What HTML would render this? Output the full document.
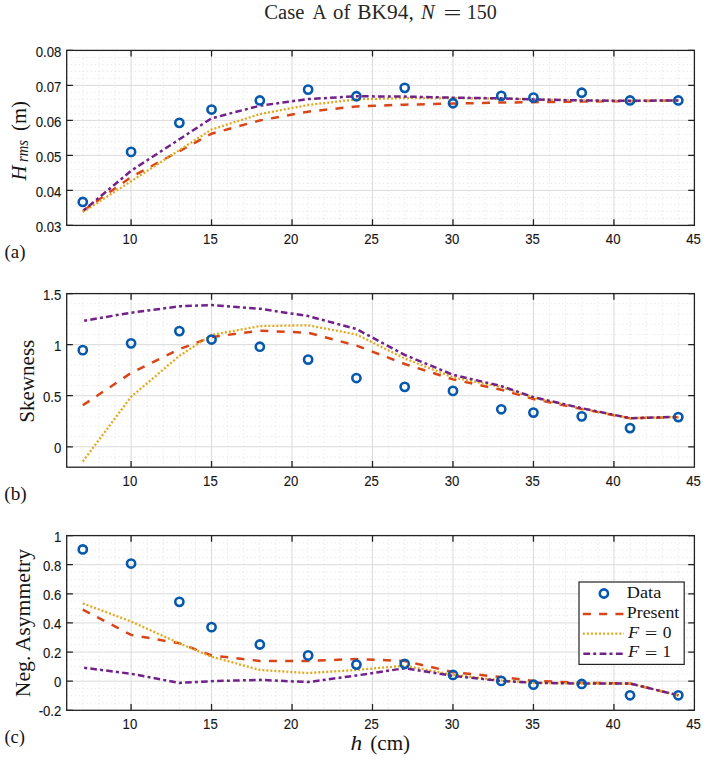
<!DOCTYPE html><html><head><meta charset="utf-8"><style>html,body{margin:0;padding:0;background:#fff;}svg{display:block}</style></head><body>
<svg width="709" height="760" viewBox="0 0 709 760">
<rect width="709" height="760" fill="#fff"/>
<path d="M82.79 50.40V225.40M98.89 50.40V225.40M114.98 50.40V225.40M147.17 50.40V225.40M163.27 50.40V225.40M179.36 50.40V225.40M195.46 50.40V225.40M227.65 50.40V225.40M243.74 50.40V225.40M259.84 50.40V225.40M275.93 50.40V225.40M308.12 50.40V225.40M324.22 50.40V225.40M340.31 50.40V225.40M356.41 50.40V225.40M388.60 50.40V225.40M404.69 50.40V225.40M420.79 50.40V225.40M436.88 50.40V225.40M469.07 50.40V225.40M485.17 50.40V225.40M501.26 50.40V225.40M517.36 50.40V225.40M549.55 50.40V225.40M565.64 50.40V225.40M581.74 50.40V225.40M597.83 50.40V225.40M630.02 50.40V225.40M646.12 50.40V225.40M662.21 50.40V225.40M678.31 50.40V225.40M66.70 218.40H694.40M66.70 211.40H694.40M66.70 204.40H694.40M66.70 197.40H694.40M66.70 183.40H694.40M66.70 176.40H694.40M66.70 169.40H694.40M66.70 162.40H694.40M66.70 148.40H694.40M66.70 141.40H694.40M66.70 134.40H694.40M66.70 127.40H694.40M66.70 113.40H694.40M66.70 106.40H694.40M66.70 99.40H694.40M66.70 92.40H694.40M66.70 78.40H694.40M66.70 71.40H694.40M66.70 64.40H694.40M66.70 57.40H694.40" stroke="#dfdfdf" stroke-width="1" stroke-dasharray="1 3" fill="none"/>
<path d="M131.08 50.40V225.40M211.55 50.40V225.40M292.03 50.40V225.40M372.50 50.40V225.40M452.98 50.40V225.40M533.45 50.40V225.40M613.93 50.40V225.40M66.70 190.40H694.40M66.70 155.40H694.40M66.70 120.40H694.40M66.70 85.40H694.40" stroke="#dadada" stroke-width="1" fill="none"/>
<polyline points="82.79,211.05 131.08,177.10 179.36,151.20 211.55,133.70 259.84,120.40 308.12,111.65 356.41,106.40 404.69,104.65 452.98,103.60 501.26,102.55 533.45,102.20 581.74,101.50 630.02,101.15 678.31,100.45" fill="none" stroke="#d84518" stroke-width="2.5" stroke-dasharray="8 8.3" stroke-dashoffset="0"/>
<polyline points="82.79,212.10 131.08,181.30 179.36,150.15 211.55,129.50 259.84,114.10 308.12,105.00 356.41,99.40 404.69,98.00 452.98,98.00 501.26,98.70 533.45,99.40 581.74,100.45 630.02,100.80 678.31,100.45" fill="none" stroke="#e3a81c" stroke-width="2.3" stroke-dasharray="2 2" stroke-dashoffset="0"/>
<polyline points="82.79,211.05 131.08,170.80 179.36,139.30 211.55,118.30 259.84,105.70 308.12,99.05 356.41,96.25 404.69,96.60 452.98,97.65 501.26,98.35 533.45,99.40 581.74,100.45 630.02,100.80 678.31,100.45" fill="none" stroke="#72218a" stroke-width="2.5" stroke-dasharray="6.6 3.2 3 3.2" stroke-dashoffset="8.4"/>
<circle cx="82.79" cy="201.95" r="4.1" fill="none" stroke="#0658ad" stroke-width="2.6"/>
<circle cx="131.08" cy="151.90" r="4.1" fill="none" stroke="#0658ad" stroke-width="2.6"/>
<circle cx="179.36" cy="122.85" r="4.1" fill="none" stroke="#0658ad" stroke-width="2.6"/>
<circle cx="211.55" cy="109.55" r="4.1" fill="none" stroke="#0658ad" stroke-width="2.6"/>
<circle cx="259.84" cy="100.45" r="4.1" fill="none" stroke="#0658ad" stroke-width="2.6"/>
<circle cx="308.12" cy="89.60" r="4.1" fill="none" stroke="#0658ad" stroke-width="2.6"/>
<circle cx="356.41" cy="96.25" r="4.1" fill="none" stroke="#0658ad" stroke-width="2.6"/>
<circle cx="404.69" cy="87.85" r="4.1" fill="none" stroke="#0658ad" stroke-width="2.6"/>
<circle cx="452.98" cy="103.25" r="4.1" fill="none" stroke="#0658ad" stroke-width="2.6"/>
<circle cx="501.26" cy="95.90" r="4.1" fill="none" stroke="#0658ad" stroke-width="2.6"/>
<circle cx="533.45" cy="97.65" r="4.1" fill="none" stroke="#0658ad" stroke-width="2.6"/>
<circle cx="581.74" cy="92.75" r="4.1" fill="none" stroke="#0658ad" stroke-width="2.6"/>
<circle cx="630.02" cy="100.45" r="4.1" fill="none" stroke="#0658ad" stroke-width="2.6"/>
<circle cx="678.31" cy="100.45" r="4.1" fill="none" stroke="#0658ad" stroke-width="2.6"/>
<rect x="66.70" y="50.40" width="627.70" height="175.00" fill="none" stroke="#222222" stroke-width="1.3"/>
<path d="M131.08 225.40v-6.2M131.08 50.40v6.2M211.55 225.40v-6.2M211.55 50.40v6.2M292.03 225.40v-6.2M292.03 50.40v6.2M372.50 225.40v-6.2M372.50 50.40v6.2M452.98 225.40v-6.2M452.98 50.40v6.2M533.45 225.40v-6.2M533.45 50.40v6.2M613.93 225.40v-6.2M613.93 50.40v6.2M66.70 225.40h6.2M694.40 225.40h-6.2M66.70 190.40h6.2M694.40 190.40h-6.2M66.70 155.40h6.2M694.40 155.40h-6.2M66.70 120.40h6.2M694.40 120.40h-6.2M66.70 85.40h6.2M694.40 85.40h-6.2M66.70 50.40h6.2M694.40 50.40h-6.2" stroke="#222222" stroke-width="1.3" fill="none"/>
<text x="35.69" y="231.50" font-family="Liberation Sans" font-size="14.3" textLength="25.61" lengthAdjust="spacingAndGlyphs" fill="#151515" stroke="#151515" stroke-width="0.12">0.03</text>
<text x="35.69" y="196.50" font-family="Liberation Sans" font-size="14.3" textLength="25.61" lengthAdjust="spacingAndGlyphs" fill="#151515" stroke="#151515" stroke-width="0.12">0.04</text>
<text x="35.69" y="161.50" font-family="Liberation Sans" font-size="14.3" textLength="25.61" lengthAdjust="spacingAndGlyphs" fill="#151515" stroke="#151515" stroke-width="0.12">0.05</text>
<text x="35.69" y="126.50" font-family="Liberation Sans" font-size="14.3" textLength="25.61" lengthAdjust="spacingAndGlyphs" fill="#151515" stroke="#151515" stroke-width="0.12">0.06</text>
<text x="35.69" y="91.50" font-family="Liberation Sans" font-size="14.3" textLength="25.61" lengthAdjust="spacingAndGlyphs" fill="#151515" stroke="#151515" stroke-width="0.12">0.07</text>
<text x="35.69" y="56.50" font-family="Liberation Sans" font-size="14.3" textLength="25.61" lengthAdjust="spacingAndGlyphs" fill="#151515" stroke="#151515" stroke-width="0.12">0.08</text>
<text x="122.62" y="244.40" font-family="Liberation Sans" font-size="14.3" textLength="14.63" lengthAdjust="spacingAndGlyphs" fill="#151515" stroke="#151515" stroke-width="0.12">10</text>
<text x="203.12" y="244.40" font-family="Liberation Sans" font-size="14.3" textLength="14.63" lengthAdjust="spacingAndGlyphs" fill="#151515" stroke="#151515" stroke-width="0.12">15</text>
<text x="283.74" y="244.40" font-family="Liberation Sans" font-size="14.3" textLength="14.63" lengthAdjust="spacingAndGlyphs" fill="#151515" stroke="#151515" stroke-width="0.12">20</text>
<text x="364.24" y="244.40" font-family="Liberation Sans" font-size="14.3" textLength="14.63" lengthAdjust="spacingAndGlyphs" fill="#151515" stroke="#151515" stroke-width="0.12">25</text>
<text x="444.77" y="244.40" font-family="Liberation Sans" font-size="14.3" textLength="14.63" lengthAdjust="spacingAndGlyphs" fill="#151515" stroke="#151515" stroke-width="0.12">30</text>
<text x="525.26" y="244.40" font-family="Liberation Sans" font-size="14.3" textLength="14.63" lengthAdjust="spacingAndGlyphs" fill="#151515" stroke="#151515" stroke-width="0.12">35</text>
<text x="605.82" y="244.40" font-family="Liberation Sans" font-size="14.3" textLength="14.63" lengthAdjust="spacingAndGlyphs" fill="#151515" stroke="#151515" stroke-width="0.12">40</text>
<text x="686.31" y="244.40" font-family="Liberation Sans" font-size="14.3" textLength="14.63" lengthAdjust="spacingAndGlyphs" fill="#151515" stroke="#151515" stroke-width="0.12">45</text>
<path d="M82.79 293.60V467.20M98.89 293.60V467.20M114.98 293.60V467.20M147.17 293.60V467.20M163.27 293.60V467.20M179.36 293.60V467.20M195.46 293.60V467.20M227.65 293.60V467.20M243.74 293.60V467.20M259.84 293.60V467.20M275.93 293.60V467.20M308.12 293.60V467.20M324.22 293.60V467.20M340.31 293.60V467.20M356.41 293.60V467.20M388.60 293.60V467.20M404.69 293.60V467.20M420.79 293.60V467.20M436.88 293.60V467.20M469.07 293.60V467.20M485.17 293.60V467.20M501.26 293.60V467.20M517.36 293.60V467.20M549.55 293.60V467.20M565.64 293.60V467.20M581.74 293.60V467.20M597.83 293.60V467.20M630.02 293.60V467.20M646.12 293.60V467.20M662.21 293.60V467.20M678.31 293.60V467.20M66.70 456.99H694.40M66.70 436.56H694.40M66.70 426.35H694.40M66.70 416.14H694.40M66.70 405.93H694.40M66.70 385.51H694.40M66.70 375.29H694.40M66.70 365.08H694.40M66.70 354.87H694.40M66.70 334.45H694.40M66.70 324.24H694.40M66.70 314.02H694.40M66.70 303.81H694.40" stroke="#dfdfdf" stroke-width="1" stroke-dasharray="1 3" fill="none"/>
<path d="M131.08 293.60V467.20M211.55 293.60V467.20M292.03 293.60V467.20M372.50 293.60V467.20M452.98 293.60V467.20M533.45 293.60V467.20M613.93 293.60V467.20M66.70 446.78H694.40M66.70 395.72H694.40M66.70 344.66H694.40" stroke="#dadada" stroke-width="1" fill="none"/>
<polyline points="82.79,405.32 131.08,372.95 179.36,349.15 211.55,337.00 259.84,330.77 308.12,332.71 356.41,345.58 404.69,363.96 452.98,379.38 501.26,389.79 533.45,398.99 581.74,408.99 630.02,418.18 678.31,417.16" fill="none" stroke="#d84518" stroke-width="2.5" stroke-dasharray="8 8.3" stroke-dashoffset="0"/>
<polyline points="82.79,461.48 131.08,396.84 179.36,355.89 211.55,334.96 259.84,326.07 308.12,325.26 356.41,334.45 404.69,358.44 452.98,377.34 501.26,387.04 533.45,397.76 581.74,408.48 630.02,418.18 678.31,416.96" fill="none" stroke="#e3a81c" stroke-width="2.3" stroke-dasharray="2 2" stroke-dashoffset="0"/>
<polyline points="82.79,320.97 131.08,312.70 179.36,306.36 211.55,305.04 259.84,308.71 308.12,316.07 356.41,329.03 404.69,354.87 452.98,374.78 501.26,386.12 533.45,397.15 581.74,408.18 630.02,418.18 678.31,416.86" fill="none" stroke="#72218a" stroke-width="2.5" stroke-dasharray="6.6 3.2 3 3.2" stroke-dashoffset="8.4"/>
<circle cx="82.79" cy="350.17" r="4.1" fill="none" stroke="#0658ad" stroke-width="2.6"/>
<circle cx="131.08" cy="343.33" r="4.1" fill="none" stroke="#0658ad" stroke-width="2.6"/>
<circle cx="179.36" cy="331.08" r="4.1" fill="none" stroke="#0658ad" stroke-width="2.6"/>
<circle cx="211.55" cy="339.55" r="4.1" fill="none" stroke="#0658ad" stroke-width="2.6"/>
<circle cx="259.84" cy="346.70" r="4.1" fill="none" stroke="#0658ad" stroke-width="2.6"/>
<circle cx="308.12" cy="359.57" r="4.1" fill="none" stroke="#0658ad" stroke-width="2.6"/>
<circle cx="356.41" cy="378.05" r="4.1" fill="none" stroke="#0658ad" stroke-width="2.6"/>
<circle cx="404.69" cy="386.83" r="4.1" fill="none" stroke="#0658ad" stroke-width="2.6"/>
<circle cx="452.98" cy="390.92" r="4.1" fill="none" stroke="#0658ad" stroke-width="2.6"/>
<circle cx="501.26" cy="409.30" r="4.1" fill="none" stroke="#0658ad" stroke-width="2.6"/>
<circle cx="533.45" cy="412.57" r="4.1" fill="none" stroke="#0658ad" stroke-width="2.6"/>
<circle cx="581.74" cy="416.35" r="4.1" fill="none" stroke="#0658ad" stroke-width="2.6"/>
<circle cx="630.02" cy="428.09" r="4.1" fill="none" stroke="#0658ad" stroke-width="2.6"/>
<circle cx="678.31" cy="417.06" r="4.1" fill="none" stroke="#0658ad" stroke-width="2.6"/>
<rect x="66.70" y="293.60" width="627.70" height="173.60" fill="none" stroke="#222222" stroke-width="1.3"/>
<path d="M131.08 467.20v-6.2M131.08 293.60v6.2M211.55 467.20v-6.2M211.55 293.60v6.2M292.03 467.20v-6.2M292.03 293.60v6.2M372.50 467.20v-6.2M372.50 293.60v6.2M452.98 467.20v-6.2M452.98 293.60v6.2M533.45 467.20v-6.2M533.45 293.60v6.2M613.93 467.20v-6.2M613.93 293.60v6.2M66.70 446.78h6.2M694.40 446.78h-6.2M66.70 395.72h6.2M694.40 395.72h-6.2M66.70 344.66h6.2M694.40 344.66h-6.2M66.70 293.60h6.2M694.40 293.60h-6.2" stroke="#222222" stroke-width="1.3" fill="none"/>
<text x="53.98" y="452.88" font-family="Liberation Sans" font-size="14.3" textLength="7.32" lengthAdjust="spacingAndGlyphs" fill="#151515" stroke="#151515" stroke-width="0.12">0</text>
<text x="43.01" y="401.82" font-family="Liberation Sans" font-size="14.3" textLength="18.29" lengthAdjust="spacingAndGlyphs" fill="#151515" stroke="#151515" stroke-width="0.12">0.5</text>
<text x="53.98" y="350.76" font-family="Liberation Sans" font-size="14.3" textLength="7.32" lengthAdjust="spacingAndGlyphs" fill="#151515" stroke="#151515" stroke-width="0.12">1</text>
<text x="43.01" y="299.70" font-family="Liberation Sans" font-size="14.3" textLength="18.29" lengthAdjust="spacingAndGlyphs" fill="#151515" stroke="#151515" stroke-width="0.12">1.5</text>
<text x="122.62" y="486.20" font-family="Liberation Sans" font-size="14.3" textLength="14.63" lengthAdjust="spacingAndGlyphs" fill="#151515" stroke="#151515" stroke-width="0.12">10</text>
<text x="203.12" y="486.20" font-family="Liberation Sans" font-size="14.3" textLength="14.63" lengthAdjust="spacingAndGlyphs" fill="#151515" stroke="#151515" stroke-width="0.12">15</text>
<text x="283.74" y="486.20" font-family="Liberation Sans" font-size="14.3" textLength="14.63" lengthAdjust="spacingAndGlyphs" fill="#151515" stroke="#151515" stroke-width="0.12">20</text>
<text x="364.24" y="486.20" font-family="Liberation Sans" font-size="14.3" textLength="14.63" lengthAdjust="spacingAndGlyphs" fill="#151515" stroke="#151515" stroke-width="0.12">25</text>
<text x="444.77" y="486.20" font-family="Liberation Sans" font-size="14.3" textLength="14.63" lengthAdjust="spacingAndGlyphs" fill="#151515" stroke="#151515" stroke-width="0.12">30</text>
<text x="525.26" y="486.20" font-family="Liberation Sans" font-size="14.3" textLength="14.63" lengthAdjust="spacingAndGlyphs" fill="#151515" stroke="#151515" stroke-width="0.12">35</text>
<text x="605.82" y="486.20" font-family="Liberation Sans" font-size="14.3" textLength="14.63" lengthAdjust="spacingAndGlyphs" fill="#151515" stroke="#151515" stroke-width="0.12">40</text>
<text x="686.31" y="486.20" font-family="Liberation Sans" font-size="14.3" textLength="14.63" lengthAdjust="spacingAndGlyphs" fill="#151515" stroke="#151515" stroke-width="0.12">45</text>
<path d="M82.79 535.60V710.30M98.89 535.60V710.30M114.98 535.60V710.30M147.17 535.60V710.30M163.27 535.60V710.30M179.36 535.60V710.30M195.46 535.60V710.30M227.65 535.60V710.30M243.74 535.60V710.30M259.84 535.60V710.30M275.93 535.60V710.30M308.12 535.60V710.30M324.22 535.60V710.30M340.31 535.60V710.30M356.41 535.60V710.30M388.60 535.60V710.30M404.69 535.60V710.30M420.79 535.60V710.30M436.88 535.60V710.30M469.07 535.60V710.30M485.17 535.60V710.30M501.26 535.60V710.30M517.36 535.60V710.30M549.55 535.60V710.30M565.64 535.60V710.30M581.74 535.60V710.30M597.83 535.60V710.30M630.02 535.60V710.30M646.12 535.60V710.30M662.21 535.60V710.30M678.31 535.60V710.30M66.70 703.02H694.40M66.70 695.74H694.40M66.70 688.46H694.40M66.70 673.90H694.40M66.70 666.62H694.40M66.70 659.35H694.40M66.70 644.79H694.40M66.70 637.51H694.40M66.70 630.23H694.40M66.70 615.67H694.40M66.70 608.39H694.40M66.70 601.11H694.40M66.70 586.55H694.40M66.70 579.27H694.40M66.70 572.00H694.40M66.70 557.44H694.40M66.70 550.16H694.40M66.70 542.88H694.40" stroke="#dfdfdf" stroke-width="1" stroke-dasharray="1 3" fill="none"/>
<path d="M131.08 535.60V710.30M211.55 535.60V710.30M292.03 535.60V710.30M372.50 535.60V710.30M452.98 535.60V710.30M533.45 535.60V710.30M613.93 535.60V710.30M66.70 681.18H694.40M66.70 652.07H694.40M66.70 622.95H694.40M66.70 593.83H694.40M66.70 564.72H694.40" stroke="#dadada" stroke-width="1" fill="none"/>
<polyline points="82.79,609.56 131.08,634.89 179.36,643.33 211.55,655.42 259.84,660.95 308.12,660.95 356.41,659.05 404.69,660.95 452.98,672.16 501.26,677.11 533.45,680.89 581.74,682.78 630.02,683.51 678.31,695.30" fill="none" stroke="#d84518" stroke-width="2.5" stroke-dasharray="8 8.3" stroke-dashoffset="0"/>
<polyline points="82.79,603.44 131.08,621.49 179.36,643.33 211.55,656.73 259.84,669.97 308.12,673.03 356.41,669.97 404.69,665.75 452.98,674.78 501.26,680.46 533.45,682.78 581.74,683.51 630.02,683.51 678.31,695.30" fill="none" stroke="#e3a81c" stroke-width="2.3" stroke-dasharray="2 2" stroke-dashoffset="0"/>
<polyline points="82.79,667.64 131.08,673.76 179.36,682.93 211.55,681.18 259.84,679.87 308.12,682.06 356.41,675.51 404.69,668.23 452.98,675.94 501.26,680.89 533.45,682.78 581.74,683.51 630.02,683.51 678.31,695.30" fill="none" stroke="#72218a" stroke-width="2.5" stroke-dasharray="6.6 3.2 3 3.2" stroke-dashoffset="8.4"/>
<circle cx="82.79" cy="549.43" r="4.1" fill="none" stroke="#0658ad" stroke-width="2.6"/>
<circle cx="131.08" cy="563.55" r="4.1" fill="none" stroke="#0658ad" stroke-width="2.6"/>
<circle cx="179.36" cy="601.84" r="4.1" fill="none" stroke="#0658ad" stroke-width="2.6"/>
<circle cx="211.55" cy="627.17" r="4.1" fill="none" stroke="#0658ad" stroke-width="2.6"/>
<circle cx="259.84" cy="644.50" r="4.1" fill="none" stroke="#0658ad" stroke-width="2.6"/>
<circle cx="308.12" cy="655.42" r="4.1" fill="none" stroke="#0658ad" stroke-width="2.6"/>
<circle cx="356.41" cy="664.59" r="4.1" fill="none" stroke="#0658ad" stroke-width="2.6"/>
<circle cx="404.69" cy="663.86" r="4.1" fill="none" stroke="#0658ad" stroke-width="2.6"/>
<circle cx="452.98" cy="674.92" r="4.1" fill="none" stroke="#0658ad" stroke-width="2.6"/>
<circle cx="501.26" cy="680.89" r="4.1" fill="none" stroke="#0658ad" stroke-width="2.6"/>
<circle cx="533.45" cy="684.68" r="4.1" fill="none" stroke="#0658ad" stroke-width="2.6"/>
<circle cx="581.74" cy="683.95" r="4.1" fill="none" stroke="#0658ad" stroke-width="2.6"/>
<circle cx="630.02" cy="695.30" r="4.1" fill="none" stroke="#0658ad" stroke-width="2.6"/>
<circle cx="678.31" cy="695.30" r="4.1" fill="none" stroke="#0658ad" stroke-width="2.6"/>
<rect x="66.70" y="535.60" width="627.70" height="174.70" fill="none" stroke="#222222" stroke-width="1.3"/>
<path d="M131.08 710.30v-6.2M131.08 535.60v6.2M211.55 710.30v-6.2M211.55 535.60v6.2M292.03 710.30v-6.2M292.03 535.60v6.2M372.50 710.30v-6.2M372.50 535.60v6.2M452.98 710.30v-6.2M452.98 535.60v6.2M533.45 710.30v-6.2M533.45 535.60v6.2M613.93 710.30v-6.2M613.93 535.60v6.2M66.70 710.30h6.2M694.40 710.30h-6.2M66.70 681.18h6.2M694.40 681.18h-6.2M66.70 652.07h6.2M694.40 652.07h-6.2M66.70 622.95h6.2M694.40 622.95h-6.2M66.70 593.83h6.2M694.40 593.83h-6.2M66.70 564.72h6.2M694.40 564.72h-6.2M66.70 535.60h6.2M694.40 535.60h-6.2" stroke="#222222" stroke-width="1.3" fill="none"/>
<text x="38.63" y="716.40" font-family="Liberation Sans" font-size="14.3" textLength="22.67" lengthAdjust="spacingAndGlyphs" fill="#151515" stroke="#151515" stroke-width="0.12">-0.2</text>
<text x="53.98" y="687.28" font-family="Liberation Sans" font-size="14.3" textLength="7.32" lengthAdjust="spacingAndGlyphs" fill="#151515" stroke="#151515" stroke-width="0.12">0</text>
<text x="43.01" y="658.17" font-family="Liberation Sans" font-size="14.3" textLength="18.29" lengthAdjust="spacingAndGlyphs" fill="#151515" stroke="#151515" stroke-width="0.12">0.2</text>
<text x="43.01" y="629.05" font-family="Liberation Sans" font-size="14.3" textLength="18.29" lengthAdjust="spacingAndGlyphs" fill="#151515" stroke="#151515" stroke-width="0.12">0.4</text>
<text x="43.01" y="599.93" font-family="Liberation Sans" font-size="14.3" textLength="18.29" lengthAdjust="spacingAndGlyphs" fill="#151515" stroke="#151515" stroke-width="0.12">0.6</text>
<text x="43.01" y="570.82" font-family="Liberation Sans" font-size="14.3" textLength="18.29" lengthAdjust="spacingAndGlyphs" fill="#151515" stroke="#151515" stroke-width="0.12">0.8</text>
<text x="53.98" y="541.70" font-family="Liberation Sans" font-size="14.3" textLength="7.32" lengthAdjust="spacingAndGlyphs" fill="#151515" stroke="#151515" stroke-width="0.12">1</text>
<text x="122.62" y="729.30" font-family="Liberation Sans" font-size="14.3" textLength="14.63" lengthAdjust="spacingAndGlyphs" fill="#151515" stroke="#151515" stroke-width="0.12">10</text>
<text x="203.12" y="729.30" font-family="Liberation Sans" font-size="14.3" textLength="14.63" lengthAdjust="spacingAndGlyphs" fill="#151515" stroke="#151515" stroke-width="0.12">15</text>
<text x="283.74" y="729.30" font-family="Liberation Sans" font-size="14.3" textLength="14.63" lengthAdjust="spacingAndGlyphs" fill="#151515" stroke="#151515" stroke-width="0.12">20</text>
<text x="364.24" y="729.30" font-family="Liberation Sans" font-size="14.3" textLength="14.63" lengthAdjust="spacingAndGlyphs" fill="#151515" stroke="#151515" stroke-width="0.12">25</text>
<text x="444.77" y="729.30" font-family="Liberation Sans" font-size="14.3" textLength="14.63" lengthAdjust="spacingAndGlyphs" fill="#151515" stroke="#151515" stroke-width="0.12">30</text>
<text x="525.26" y="729.30" font-family="Liberation Sans" font-size="14.3" textLength="14.63" lengthAdjust="spacingAndGlyphs" fill="#151515" stroke="#151515" stroke-width="0.12">35</text>
<text x="605.82" y="729.30" font-family="Liberation Sans" font-size="14.3" textLength="14.63" lengthAdjust="spacingAndGlyphs" fill="#151515" stroke="#151515" stroke-width="0.12">40</text>
<text x="686.31" y="729.30" font-family="Liberation Sans" font-size="14.3" textLength="14.63" lengthAdjust="spacingAndGlyphs" fill="#151515" stroke="#151515" stroke-width="0.12">45</text>
<text x="264.25" y="19.25" font-family="Liberation Serif" font-style="normal" font-size="20.5" textLength="40.06" lengthAdjust="spacingAndGlyphs" fill="#262626" >Case</text>
<text x="312.61" y="19.25" font-family="Liberation Serif" font-style="normal" font-size="20.5" textLength="14.03" lengthAdjust="spacingAndGlyphs" fill="#262626" >A</text>
<text x="333.01" y="19.25" font-family="Liberation Serif" font-style="normal" font-size="20.5" textLength="17.29" lengthAdjust="spacingAndGlyphs" fill="#262626" >of</text>
<text x="357.38" y="19.25" font-family="Liberation Serif" font-style="normal" font-size="20.5" textLength="56.37" lengthAdjust="spacingAndGlyphs" fill="#262626" >BK94,</text>
<text x="421.04" y="19.25" font-family="Liberation Serif" font-style="italic" font-size="20.5" textLength="13.71" lengthAdjust="spacingAndGlyphs" fill="#262626" >N</text>
<text x="443.61" y="20.00" font-family="Liberation Serif" font-style="normal" font-size="20.5" textLength="17.95" lengthAdjust="spacingAndGlyphs" fill="#262626" >=</text>
<text x="466.74" y="19.25" font-family="Liberation Serif" font-style="normal" font-size="20.5" textLength="30.02" lengthAdjust="spacingAndGlyphs" fill="#262626" >150</text>
<text transform="translate(25.60,180.60) rotate(-90)" x="0.23" y="0" font-family="Liberation Serif" font-style="italic" font-size="20" textLength="15.04" lengthAdjust="spacingAndGlyphs" fill="#151515" >H</text>
<text transform="translate(28.10,161.30) rotate(-90)" x="-0.59" y="0" font-family="Liberation Serif" font-style="italic" font-size="16" textLength="21.74" lengthAdjust="spacingAndGlyphs" fill="#151515" >rms</text>
<text transform="translate(25.60,130.00) rotate(-90)" x="-0.91" y="0" font-family="Liberation Serif" font-style="normal" font-size="20" textLength="29.92" lengthAdjust="spacingAndGlyphs" fill="#151515" >(m)</text>
<text transform="translate(33.50,421.40) rotate(-90)" x="-1.41" y="0" font-family="Liberation Serif" font-style="normal" font-size="20.5" textLength="83.08" lengthAdjust="spacingAndGlyphs" fill="#151515" >Skewness</text>
<text transform="translate(30.40,696.60) rotate(-90)" x="-0.63" y="0" font-family="Liberation Serif" font-style="normal" font-size="21" textLength="148.31" lengthAdjust="spacingAndGlyphs" fill="#151515" >Neg. Asymmetry</text>
<text x="4.57" y="258.30" font-family="Liberation Serif" font-style="normal" font-size="19" textLength="20.96" lengthAdjust="spacingAndGlyphs" fill="#151515" >(a)</text>
<text x="4.36" y="500.20" font-family="Liberation Serif" font-style="normal" font-size="19" textLength="22.39" lengthAdjust="spacingAndGlyphs" fill="#151515" >(b)</text>
<text x="4.38" y="743.40" font-family="Liberation Serif" font-style="normal" font-size="19" textLength="20.63" lengthAdjust="spacingAndGlyphs" fill="#151515" >(c)</text>
<text x="350.56" y="749.70" font-family="Liberation Serif" font-style="italic" font-size="20" textLength="11.70" lengthAdjust="spacingAndGlyphs" fill="#151515" >h</text>
<text x="370.27" y="749.70" font-family="Liberation Serif" font-style="normal" font-size="20" textLength="39.85" lengthAdjust="spacingAndGlyphs" fill="#151515" >(cm)</text>
<rect x="579.0" y="582.0" width="105.20" height="82.40" fill="#fff" stroke="#222222" stroke-width="1.2"/>
<circle cx="603.9" cy="593.5" r="4.1" fill="none" stroke="#0658ad" stroke-width="2.6"/>
<path d="M582.8 613.9H623.9" stroke="#d84518" stroke-width="2.5" stroke-dasharray="8.1 8.2" fill="none"/>
<path d="M582.8 633.6H623.9" stroke="#e3a81c" stroke-width="2.3" stroke-dasharray="2 2.06" fill="none"/>
<path d="M583.3 653.8H623.9" stroke="#72218a" stroke-width="2.5" stroke-dasharray="6.8 3.1 3 3.4" fill="none"/>
<text x="626.87" y="597.80" font-family="Liberation Serif" font-style="normal" font-size="16.3" textLength="34.38" lengthAdjust="spacingAndGlyphs" fill="#151515" >Data</text>
<text x="626.88" y="617.70" font-family="Liberation Serif" font-style="normal" font-size="16.3" textLength="52.42" lengthAdjust="spacingAndGlyphs" fill="#151515" >Present</text>
<text x="627.99" y="637.60" font-family="Liberation Serif" font-style="italic" font-size="16.3" textLength="11.16" lengthAdjust="spacingAndGlyphs" fill="#151515" >F</text>
<text x="644.78" y="639.00" font-family="Liberation Serif" font-style="normal" font-size="16.3" textLength="12.61" lengthAdjust="spacingAndGlyphs" fill="#151515" >=</text>
<text x="662.74" y="637.60" font-family="Liberation Serif" font-style="normal" font-size="16.3" textLength="8.73" lengthAdjust="spacingAndGlyphs" fill="#151515" >0</text>
<text x="627.99" y="657.30" font-family="Liberation Serif" font-style="italic" font-size="16.3" textLength="11.16" lengthAdjust="spacingAndGlyphs" fill="#151515" >F</text>
<text x="644.78" y="658.80" font-family="Liberation Serif" font-style="normal" font-size="16.3" textLength="12.61" lengthAdjust="spacingAndGlyphs" fill="#151515" >=</text>
<text x="662.40" y="657.30" font-family="Liberation Serif" font-style="normal" font-size="16.3" textLength="8.52" lengthAdjust="spacingAndGlyphs" fill="#151515" >1</text>
</svg></body></html>
